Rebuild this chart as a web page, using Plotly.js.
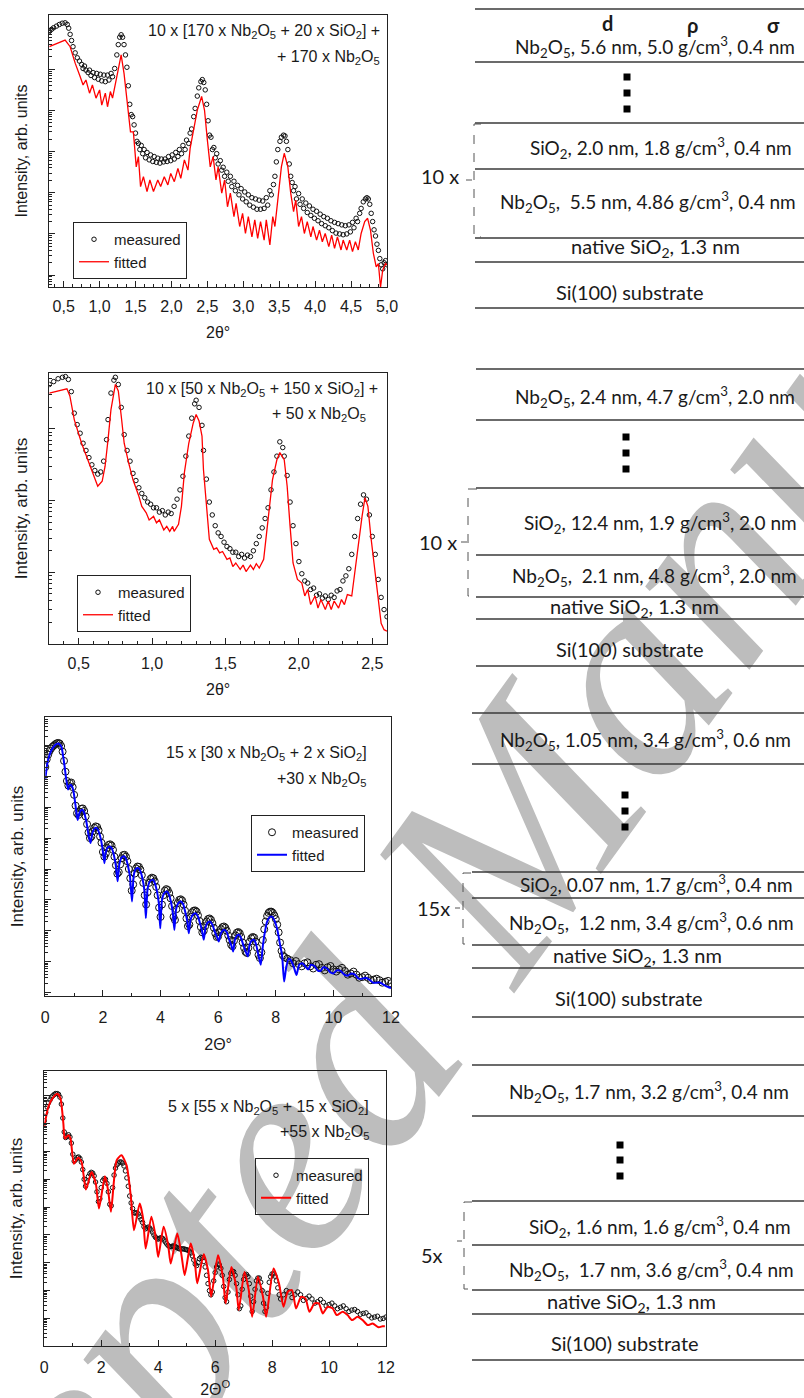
<!DOCTYPE html>
<html><head><meta charset="utf-8">
<script src="https://cdn.plot.ly/plotly-3.0.1.min.js"></script>
<style>
html,body{margin:0;padding:0;background:#fff;}
#wrap{position:relative;width:804px;height:1398px;overflow:hidden;background:#fff;}
#wm{position:absolute;left:497px;top:852px;transform:translate(-50%,-50%) rotate(-54deg);font-family:'Liberation Serif','Times New Roman',serif;font-style:italic;font-size:290px;color:#bdbdbd;white-space:nowrap;line-height:1;}
#chart{position:absolute;left:0;top:0;width:804px;height:1398px;}
</style></head><body>
<div id="wrap"><div id="wm">Accepted Manuscript</div><div id="chart"></div></div>
<script>
// ---------- DATA (x = 2theta in degrees, value = log10 of intensity, arb. units) ----------
const p1Measured = [[0.30,5.92],[0.33,5.97],[0.36,6.01],[0.40,6.05],[0.44,6.09],[0.48,6.12],[0.52,6.13],[0.55,6.09],[0.57,6.00],[0.59,5.85],[0.61,5.70],[0.63,5.55],[0.66,5.40],[0.69,5.28],[0.72,5.20],[0.75,5.12],[0.77,5.02],[0.79,5.08],[0.81,4.98],[0.84,4.92],[0.86,4.98],[0.88,4.85],[0.91,4.92],[0.93,4.80],[0.96,4.90],[0.98,4.76],[1.01,4.88],[1.03,4.72],[1.06,4.86],[1.08,4.70],[1.11,4.86],[1.13,4.74],[1.16,4.90],[1.18,4.82],[1.21,5.02],[1.24,5.35],[1.26,5.60],[1.28,5.78],[1.30,5.84],[1.32,5.78],[1.34,5.60],[1.36,5.35],[1.38,5.05],[1.40,4.60],[1.42,4.15],[1.44,3.90],[1.46,3.85],[1.48,3.65],[1.50,3.45],[1.52,3.25],[1.54,3.20],[1.56,3.05],[1.58,3.15],[1.60,2.95],[1.62,3.05],[1.64,2.85],[1.66,2.98],[1.69,2.80],[1.71,2.92],[1.74,2.76],[1.76,2.88],[1.79,2.74],[1.81,2.84],[1.84,2.72],[1.86,2.82],[1.89,2.75],[1.91,2.82],[1.94,2.76],[1.96,2.88],[1.99,2.78],[2.01,2.92],[2.04,2.82],[2.06,2.98],[2.09,2.88],[2.11,3.05],[2.14,2.95],[2.16,3.15],[2.19,3.05],[2.21,3.28],[2.24,3.20],[2.26,3.45],[2.28,3.55],[2.31,3.85],[2.33,4.05],[2.36,4.35],[2.38,4.55],[2.41,4.70],[2.43,4.75],[2.45,4.68],[2.47,4.50],[2.49,4.15],[2.51,3.75],[2.53,3.40],[2.55,3.35],[2.57,3.05],[2.59,3.10],[2.61,2.85],[2.63,2.95],[2.65,2.70],[2.68,2.78],[2.70,2.55],[2.72,2.62],[2.74,2.40],[2.77,2.50],[2.79,2.28],[2.82,2.40],[2.84,2.15],[2.87,2.28],[2.89,2.05],[2.92,2.18],[2.94,1.95],[2.97,2.10],[2.99,1.85],[3.02,2.02],[3.04,1.78],[3.07,1.95],[3.09,1.70],[3.12,1.88],[3.14,1.65],[3.17,1.85],[3.19,1.60],[3.22,1.82],[3.24,1.60],[3.27,1.80],[3.29,1.62],[3.32,1.88],[3.34,1.70],[3.37,2.05],[3.39,1.95],[3.42,2.20],[3.44,2.40],[3.46,2.75],[3.48,3.05],[3.51,3.25],[3.53,3.35],[3.56,3.40],[3.58,3.38],[3.60,3.25],[3.62,3.05],[3.64,2.70],[3.66,2.40],[3.68,2.25],[3.70,2.05],[3.72,2.15],[3.74,1.85],[3.77,1.98],[3.79,1.72],[3.82,1.85],[3.84,1.62],[3.87,1.75],[3.89,1.52],[3.92,1.68],[3.94,1.45],[3.97,1.60],[3.99,1.38],[4.02,1.55],[4.04,1.32],[4.07,1.48],[4.09,1.25],[4.12,1.42],[4.14,1.20],[4.17,1.38],[4.19,1.15],[4.22,1.32],[4.24,1.08],[4.27,1.28],[4.29,1.02],[4.32,1.25],[4.34,1.00],[4.37,1.22],[4.39,0.98],[4.42,1.20],[4.44,1.00],[4.47,1.22],[4.49,1.05],[4.52,1.28],[4.54,1.15],[4.57,1.38],[4.59,1.30],[4.62,1.50],[4.64,1.62],[4.67,1.78],[4.70,1.85],[4.72,1.88],[4.74,1.85],[4.76,1.72],[4.78,1.50],[4.80,1.30],[4.82,1.10],[4.84,0.95],[4.86,0.75],[4.88,0.60],[4.90,0.40],[4.92,0.25],[4.94,0.15],[4.96,0.30],[4.98,0.35],[5.00,0.25]];
const p1Fitted = [[0.30,5.55],[0.52,5.71],[0.59,5.55],[0.66,5.15],[0.73,4.82],[0.77,4.62],[0.81,4.74],[0.86,4.42],[0.90,4.62],[0.95,4.30],[1.00,4.50],[1.03,4.13],[1.08,4.42],[1.11,4.09],[1.15,4.46],[1.18,4.30],[1.23,4.74],[1.30,5.35],[1.34,4.90],[1.39,4.09],[1.43,3.48],[1.47,3.48],[1.51,2.63],[1.54,2.88],[1.57,2.15],[1.61,2.39],[1.66,2.03],[1.70,2.31],[1.75,2.03],[1.81,2.31],[1.85,2.15],[1.90,2.39],[1.95,2.19],[1.99,2.47],[2.04,2.27],[2.09,2.59],[2.13,2.35],[2.18,2.80],[2.23,2.55],[2.26,3.08],[2.31,3.53],[2.36,4.01],[2.42,4.34],[2.46,4.01],[2.50,3.28],[2.54,2.63],[2.58,2.88],[2.62,2.31],[2.65,2.63],[2.70,1.99],[2.74,2.31],[2.78,1.66],[2.82,1.99],[2.87,1.42],[2.90,1.74],[2.95,1.18],[2.99,1.50],[3.03,1.01],[3.07,1.42],[3.12,0.93],[3.16,1.34],[3.20,0.89],[3.24,1.30],[3.29,0.85],[3.32,1.34],[3.37,0.73],[3.41,1.42],[3.44,1.18],[3.48,1.82],[3.53,2.63],[3.57,2.96],[3.62,2.63],[3.66,1.99],[3.70,1.54],[3.73,1.82],[3.77,1.18],[3.81,1.42],[3.85,1.01],[3.89,1.30],[3.94,0.93],[3.97,1.18],[4.02,0.85],[4.06,1.09],[4.10,0.81],[4.14,1.01],[4.19,0.69],[4.23,0.97],[4.27,0.65],[4.31,0.93],[4.36,0.61],[4.39,0.85],[4.44,0.61],[4.48,0.85],[4.52,0.57],[4.56,0.81],[4.60,0.61],[4.64,1.01],[4.69,1.30],[4.73,1.38],[4.77,1.09],[4.81,0.53],[4.85,0.20],[4.88,0.28],[4.91,-0.29],[4.94,0.12],[4.98,0.28],[5.00,0.24]];

const p2Measured = [[0.30,2.62],[0.33,2.66],[0.36,2.70],[0.39,2.72],[0.41,2.73],[0.43,2.69],[0.45,2.52],[0.47,2.22],[0.49,2.06],[0.51,1.94],[0.53,1.80],[0.55,1.70],[0.57,1.60],[0.59,1.50],[0.61,1.42],[0.63,1.37],[0.65,1.40],[0.67,1.55],[0.69,1.85],[0.70,2.13],[0.72,2.50],[0.74,2.68],[0.75,2.72],[0.77,2.62],[0.79,2.30],[0.81,1.92],[0.83,1.70],[0.85,1.55],[0.87,1.38],[0.89,1.28],[0.91,1.18],[0.93,1.10],[0.95,1.04],[0.97,0.98],[0.99,0.95],[1.01,0.90],[1.03,0.90],[1.05,0.84],[1.07,0.86],[1.09,0.80],[1.11,0.84],[1.13,0.82],[1.15,0.92],[1.17,1.02],[1.19,1.15],[1.21,1.34],[1.23,1.62],[1.25,1.90],[1.27,2.15],[1.29,2.35],[1.30,2.40],[1.32,2.30],[1.34,2.05],[1.35,1.70],[1.37,1.30],[1.39,0.98],[1.41,0.80],[1.43,0.65],[1.45,0.55],[1.47,0.50],[1.49,0.42],[1.51,0.36],[1.53,0.33],[1.55,0.28],[1.57,0.28],[1.59,0.22],[1.61,0.25],[1.63,0.20],[1.65,0.24],[1.67,0.22],[1.69,0.30],[1.71,0.40],[1.73,0.50],[1.75,0.62],[1.77,0.75],[1.79,0.90],[1.81,1.15],[1.83,1.40],[1.85,1.62],[1.87,1.82],[1.89,1.74],[1.90,1.62],[1.92,1.35],[1.94,0.98],[1.96,0.65],[1.98,0.40],[2.00,0.15],[2.02,-0.02],[2.04,-0.12],[2.06,-0.15],[2.08,-0.24],[2.10,-0.22],[2.12,-0.32],[2.14,-0.30],[2.16,-0.36],[2.18,-0.33],[2.20,-0.38],[2.22,-0.32],[2.24,-0.35],[2.26,-0.26],[2.28,-0.24],[2.30,-0.12],[2.32,-0.05],[2.34,0.05],[2.36,0.25],[2.38,0.50],[2.40,0.75],[2.42,0.95],[2.44,1.08],[2.46,1.02],[2.48,0.80],[2.50,0.50],[2.52,0.25],[2.54,-0.10],[2.56,-0.35],[2.58,-0.52],[2.60,-0.62]];
const p2Fitted = [[0.30,2.50],[0.42,2.56],[0.44,2.46],[0.47,2.13],[0.52,1.80],[0.57,1.53],[0.61,1.32],[0.63,1.20],[0.66,1.27],[0.68,1.48],[0.70,1.85],[0.72,2.27],[0.75,2.62],[0.77,2.53],[0.79,2.18],[0.81,1.80],[0.84,1.53],[0.87,1.29],[0.91,1.06],[0.93,0.92],[0.96,0.83],[0.98,0.73],[1.01,0.78],[1.03,0.69],[1.05,0.73],[1.08,0.59],[1.10,0.64],[1.12,0.57],[1.14,0.64],[1.15,0.57],[1.18,0.67],[1.20,0.92],[1.22,1.39],[1.25,1.80],[1.28,2.08],[1.30,2.20],[1.32,2.11],[1.34,1.90],[1.35,1.43],[1.37,0.92],[1.39,0.46],[1.42,0.32],[1.44,0.34],[1.46,0.27],[1.48,0.29],[1.51,0.18],[1.53,0.20],[1.55,0.08],[1.57,0.13],[1.60,0.04],[1.62,0.10],[1.64,0.01],[1.67,0.10],[1.69,0.04],[1.71,0.12],[1.73,0.06],[1.76,0.18],[1.78,0.55],[1.80,0.97],[1.82,1.29],[1.85,1.57],[1.87,1.67],[1.90,1.57],[1.92,1.20],[1.94,0.64],[1.96,0.13],[1.99,-0.10],[2.02,-0.15],[2.04,-0.33],[2.06,-0.24],[2.08,-0.45],[2.11,-0.33],[2.13,-0.50],[2.15,-0.38],[2.18,-0.52],[2.20,-0.40],[2.22,-0.52],[2.24,-0.40],[2.27,-0.50],[2.29,-0.38],[2.31,-0.45],[2.33,-0.31],[2.36,-0.33],[2.38,-0.01],[2.40,0.36],[2.43,0.78],[2.45,1.04],[2.47,0.92],[2.49,0.50],[2.52,-0.01],[2.54,-0.43],[2.56,-0.71],[2.58,-0.80],[2.60,-0.82]];

const p3Measured = [[0.00,7.30],[0.05,7.55],[0.10,7.70],[0.15,7.82],[0.20,7.90],[0.25,7.96],[0.30,8.00],[0.35,8.04],[0.40,8.07],[0.45,8.08],[0.50,8.06],[0.55,7.98],[0.60,7.80],[0.65,7.50],[0.70,7.15],[0.75,6.85],[0.80,6.70],[0.85,6.78],[0.90,6.80],[0.95,6.65],[1.00,6.40],[1.05,6.05],[1.10,5.80],[1.15,5.75],[1.20,5.85],[1.25,5.95],[1.30,5.96],[1.35,5.88],[1.40,5.70],[1.45,5.45],[1.50,5.18],[1.55,5.00],[1.60,5.05],[1.65,5.22],[1.70,5.33],[1.75,5.38],[1.80,5.36],[1.85,5.25],[1.90,5.05],[1.95,4.85],[2.00,4.55],[2.05,4.40],[2.10,4.50],[2.15,4.68],[2.20,4.78],[2.25,4.80],[2.30,4.76],[2.35,4.62],[2.40,4.40],[2.45,4.12],[2.50,3.85],[2.55,3.90],[2.60,4.15],[2.65,4.35],[2.70,4.45],[2.75,4.46],[2.80,4.40],[2.85,4.25],[2.90,4.00],[2.95,3.70],[3.00,3.30],[3.05,3.50],[3.10,3.85],[3.15,4.02],[3.20,4.08],[3.25,4.07],[3.30,3.98],[3.35,3.80],[3.40,3.55],[3.45,3.15],[3.50,2.85],[3.55,3.25],[3.60,3.55],[3.65,3.68],[3.70,3.72],[3.75,3.70],[3.80,3.60],[3.85,3.42],[3.90,3.15],[3.95,2.75],[4.00,2.45],[4.05,2.85],[4.10,3.15],[4.15,3.30],[4.20,3.35],[4.25,3.32],[4.30,3.22],[4.35,3.05],[4.40,2.80],[4.45,2.45],[4.50,2.35],[4.55,2.70],[4.60,2.90],[4.65,3.00],[4.70,3.02],[4.75,2.98],[4.80,2.85],[4.85,2.65],[4.90,2.40],[4.95,2.15],[5.00,2.20],[5.05,2.45],[5.10,2.60],[5.15,2.65],[5.20,2.66],[5.25,2.62],[5.30,2.50],[5.35,2.32],[5.40,2.12],[5.45,1.95],[5.50,2.00],[5.55,2.15],[5.60,2.30],[5.65,2.38],[5.70,2.40],[5.75,2.36],[5.80,2.25],[5.85,2.10],[5.90,1.92],[5.95,1.80],[6.00,1.82],[6.05,1.95],[6.10,2.05],[6.15,2.12],[6.20,2.14],[6.25,2.10],[6.30,2.00],[6.35,1.85],[6.40,1.70],[6.45,1.55],[6.50,1.50],[6.55,1.68],[6.60,1.85],[6.65,1.94],[6.70,1.96],[6.75,1.92],[6.80,1.80],[6.85,1.62],[6.90,1.45],[6.95,1.32],[7.00,1.28],[7.05,1.45],[7.10,1.65],[7.15,1.76],[7.20,1.80],[7.25,1.78],[7.30,1.65],[7.35,1.45],[7.40,1.22],[7.45,1.12],[7.50,1.30],[7.55,1.70],[7.60,2.05],[7.65,2.30],[7.70,2.48],[7.75,2.58],[7.80,2.62],[7.85,2.62],[7.90,2.58],[7.95,2.50],[8.00,2.38],[8.05,2.20],[8.10,1.95],[8.15,1.62],[8.20,1.35],[8.25,1.20],[8.30,1.15],[8.40,1.10],[8.50,1.05],[8.60,0.95],[8.70,1.02],[8.80,0.92],[8.90,0.85],[9.00,0.95],[9.10,0.98],[9.20,0.85],[9.30,0.78],[9.40,0.90],[9.50,0.92],[9.60,0.80],[9.70,0.72],[9.80,0.82],[9.90,0.86],[10.00,0.75],[10.10,0.68],[10.20,0.75],[10.30,0.80],[10.40,0.70],[10.50,0.58],[10.60,0.62],[10.70,0.68],[10.80,0.58],[10.90,0.48],[11.00,0.50],[11.10,0.55],[11.20,0.48],[11.30,0.40],[11.40,0.42],[11.50,0.45],[11.60,0.40],[11.70,0.32],[11.80,0.35],[11.90,0.38],[12.00,0.30]];
const p3Fitted = [[0.00,6.89],[0.05,7.30],[0.10,7.55],[0.20,7.82],[0.30,7.97],[0.40,8.05],[0.45,8.06],[0.50,8.03],[0.56,7.95],[0.62,7.65],[0.67,7.32],[0.72,6.95],[0.79,6.57],[0.84,6.70],[0.88,6.73],[0.94,6.65],[0.99,6.45],[1.05,6.05],[1.12,5.59],[1.18,5.80],[1.24,5.90],[1.29,5.92],[1.35,5.82],[1.41,5.60],[1.45,5.40],[1.51,5.05],[1.57,4.84],[1.63,5.15],[1.70,5.30],[1.78,5.33],[1.85,5.22],[1.92,5.00],[1.98,4.70],[2.05,4.19],[2.10,4.55],[2.17,4.70],[2.24,4.73],[2.31,4.66],[2.38,4.45],[2.45,4.10],[2.51,3.60],[2.57,4.15],[2.64,4.36],[2.73,4.41],[2.80,4.33],[2.87,4.10],[2.94,3.75],[3.01,2.95],[3.07,3.80],[3.14,4.00],[3.23,4.03],[3.30,3.93],[3.37,3.70],[3.44,3.30],[3.49,2.41],[3.55,3.35],[3.63,3.60],[3.73,3.65],[3.80,3.55],[3.87,3.30],[3.94,2.90],[3.99,2.08],[4.05,3.00],[4.13,3.22],[4.22,3.27],[4.30,3.15],[4.37,2.90],[4.43,2.55],[4.48,2.03],[4.54,2.70],[4.62,2.90],[4.71,2.95],[4.79,2.85],[4.86,2.60],[4.93,2.30],[4.98,1.92],[5.04,2.35],[5.12,2.52],[5.21,2.57],[5.29,2.48],[5.36,2.28],[5.44,2.00],[5.50,1.71],[5.56,2.10],[5.63,2.26],[5.71,2.30],[5.80,2.20],[5.88,1.98],[5.96,1.80],[6.02,1.65],[6.08,1.88],[6.15,2.00],[6.22,2.03],[6.30,1.95],[6.38,1.72],[6.46,1.52],[6.52,1.33],[6.58,1.70],[6.65,1.84],[6.72,1.87],[6.80,1.75],[6.88,1.52],[6.96,1.32],[7.03,1.17],[7.09,1.55],[7.16,1.68],[7.24,1.71],[7.32,1.55],[7.40,1.20],[7.48,0.90],[7.55,1.50],[7.62,1.95],[7.70,2.30],[7.80,2.45],[7.88,2.45],[7.96,2.32],[8.05,2.05],[8.14,1.60],[8.22,1.20],[8.29,0.36],[8.36,0.80],[8.45,1.10],[8.52,1.05],[8.62,0.85],[8.72,0.57],[8.81,0.90],[8.92,0.95],[9.02,0.85],[9.12,0.75],[9.22,0.90],[9.35,0.85],[9.45,0.72],[9.55,0.70],[9.65,0.82],[9.78,0.78],[9.90,0.65],[10.00,0.62],[10.12,0.72],[10.25,0.70],[10.38,0.58],[10.50,0.55],[10.62,0.62],[10.75,0.58],[10.88,0.45],[11.00,0.45],[11.12,0.48],[11.25,0.42],[11.38,0.32],[11.50,0.32],[11.62,0.33],[11.75,0.25],[11.90,0.18],[12.00,0.15]];

const p4Measured = [[0.00,7.10],[0.05,7.40],[0.10,7.60],[0.15,7.75],[0.20,7.85],[0.25,7.95],[0.30,8.00],[0.35,8.05],[0.40,8.08],[0.45,8.08],[0.50,8.05],[0.55,7.95],[0.60,7.70],[0.65,7.20],[0.70,6.70],[0.75,6.50],[0.80,6.55],[0.85,6.60],[0.90,6.52],[0.95,6.30],[1.00,5.90],[1.05,5.65],[1.10,5.70],[1.15,5.78],[1.20,5.80],[1.25,5.75],[1.30,5.62],[1.35,5.35],[1.40,5.00],[1.45,4.75],[1.50,4.90],[1.55,5.10],[1.60,5.20],[1.65,5.25],[1.70,5.22],[1.75,5.12],[1.80,4.90],[1.85,4.55],[1.90,4.20],[1.95,4.30],[2.00,4.70],[2.05,4.95],[2.10,5.02],[2.15,5.00],[2.20,4.85],[2.25,4.55],[2.30,4.10],[2.35,4.05],[2.40,4.70],[2.45,5.15],[2.50,5.40],[2.55,5.52],[2.60,5.58],[2.65,5.62],[2.70,5.62],[2.75,5.58],[2.80,5.48],[2.85,5.30],[2.90,5.05],[2.95,4.75],[3.00,4.40],[3.05,4.15],[3.10,3.95],[3.15,3.80],[3.20,3.78],[3.25,3.80],[3.30,3.75],[3.35,3.65],[3.40,3.55],[3.45,3.45],[3.50,3.30],[3.55,3.22],[3.60,3.25],[3.65,3.28],[3.70,3.25],[3.75,3.18],[3.80,3.10],[3.85,3.00],[3.90,2.92],[3.95,2.88],[4.00,2.85],[4.05,2.88],[4.10,2.90],[4.15,2.88],[4.20,2.82],[4.25,2.75],[4.30,2.68],[4.35,2.62],[4.40,2.58],[4.45,2.58],[4.50,2.60],[4.55,2.60],[4.60,2.58],[4.65,2.55],[4.70,2.52],[4.75,2.50],[4.80,2.50],[4.85,2.50],[4.90,2.50],[4.95,2.48],[5.00,2.47],[5.05,2.45],[5.10,2.42],[5.15,2.35],[5.20,2.25],[5.25,2.10],[5.30,1.95],[5.35,1.90],[5.40,2.00],[5.45,2.15],[5.50,2.20],[5.55,2.18],[5.60,2.05],[5.65,1.85],[5.70,1.55],[5.75,1.25],[5.80,1.00],[5.85,0.85],[5.90,0.95],[5.95,1.35],[6.00,1.65],[6.05,1.85],[6.10,1.95],[6.15,1.92],[6.20,1.80],[6.25,1.55],[6.30,1.15],[6.35,0.75],[6.40,0.60],[6.45,0.95],[6.50,1.40],[6.55,1.62],[6.60,1.70],[6.65,1.68],[6.70,1.55],[6.75,1.25],[6.80,0.85],[6.85,0.35],[6.90,0.45],[6.95,1.05],[7.00,1.40],[7.05,1.55],[7.10,1.58],[7.15,1.50],[7.20,1.25],[7.25,0.80],[7.30,0.25],[7.35,0.60],[7.40,1.05],[7.45,1.35],[7.50,1.45],[7.55,1.45],[7.60,1.30],[7.65,1.00],[7.70,0.55],[7.75,0.25],[7.80,0.40],[7.85,0.90],[7.90,1.30],[7.95,1.50],[8.00,1.60],[8.05,1.60],[8.10,1.52],[8.15,1.35],[8.20,1.10],[8.25,0.85],[8.30,0.70],[8.40,0.85],[8.50,1.00],[8.60,0.95],[8.70,0.75],[8.80,0.85],[8.90,0.95],[9.00,0.85],[9.10,0.65],[9.20,0.72],[9.30,0.80],[9.40,0.70],[9.50,0.55],[9.60,0.60],[9.70,0.68],[9.80,0.58],[9.90,0.45],[10.00,0.50],[10.10,0.55],[10.20,0.45],[10.30,0.35],[10.40,0.40],[10.50,0.45],[10.60,0.35],[10.70,0.25],[10.80,0.30],[10.90,0.32],[11.00,0.25],[11.10,0.15],[11.20,0.18],[11.30,0.20],[11.40,0.10],[11.50,0.02],[11.60,0.05],[11.70,0.08],[11.80,-0.02],[11.90,0.00],[12.00,0.05]];
const p4Fitted = [[0.00,6.88],[0.14,7.60],[0.32,7.95],[0.46,8.07],[0.57,7.89],[0.67,7.00],[0.72,6.46],[0.84,6.58],[0.92,6.46],[1.04,5.56],[1.19,5.78],[1.31,5.62],[1.46,4.63],[1.66,5.26],[1.81,4.84],[1.92,3.95],[2.13,5.11],[2.24,4.61],[2.34,3.83],[2.54,5.68],[2.71,5.86],[2.89,5.50],[3.04,4.37],[3.15,3.17],[3.35,4.13],[3.47,3.59],[3.56,2.51],[3.76,3.65],[3.91,2.93],[4.00,2.21],[4.19,3.29],[4.35,2.63],[4.44,1.97],[4.67,3.05],[4.81,2.33],[4.93,1.56],[5.14,2.69],[5.28,2.09],[5.37,1.26],[5.60,2.31],[5.75,1.73],[5.86,0.78],[6.10,2.27],[6.27,1.50],[6.37,0.54],[6.57,1.85],[6.74,1.14],[6.83,0.30],[7.03,1.67],[7.18,1.02],[7.30,0.06],[7.50,1.50],[7.68,0.78],[7.79,0.06],[8.05,1.79],[8.24,1.26],[8.40,0.42],[8.55,0.96],[8.70,1.02],[8.84,0.36],[9.02,0.78],[9.17,0.72],[9.31,0.24],[9.49,0.54],[9.64,0.54],[9.78,0.18],[9.95,0.42],[10.13,0.36],[10.27,0.12],[10.48,0.24],[10.65,0.12],[10.81,-0.06],[11.00,0.06],[11.18,-0.06],[11.36,-0.24],[11.53,-0.18],[11.74,-0.32],[11.88,-0.28],[11.96,-0.28]];

const sampleFormulas = [
  ['10 x [170 x Nb<sub>2</sub>O<sub>5</sub> + 20 x SiO<sub>2</sub>] +', '+ 170 x Nb<sub>2</sub>O<sub>5</sub>'],
  ['10 x [50 x Nb<sub>2</sub>O<sub>5</sub> + 150 x SiO<sub>2</sub>] +', '+ 50 x Nb<sub>2</sub>O<sub>5</sub>'],
  ['15 x [30 x Nb<sub>2</sub>O<sub>5</sub> + 2 x SiO<sub>2</sub>]', '+30 x Nb<sub>2</sub>O<sub>5</sub>'],
  ['5 x [55 x Nb<sub>2</sub>O<sub>5</sub> + 15 x SiO<sub>2</sub>]', '+55 x Nb<sub>2</sub>O<sub>5</sub>']
];
const xTitles = ['2θ°', '2θ°', '2Θ°', '2Θ<sup>O</sup>'];
const seriesNames = ['measured', 'fitted'];

// layer stacks (right column)
const layerTexts = [
  ['Nb<sub>2</sub>O<sub>5</sub>, 5.6 nm, 5.0 g/cm<sup>3</sup>, 0.4 nm', 'SiO<sub>2</sub>, 2.0 nm, 1.8 g/cm<sup>3</sup>, 0.4 nm', 'Nb<sub>2</sub>O<sub>5</sub>,\u00a0 5.5 nm, 4.86 g/cm<sup>3</sup>, 0.4 nm'],
  ['Nb<sub>2</sub>O<sub>5</sub>, 2.4 nm, 4.7 g/cm<sup>3</sup>, 2.0 nm', 'SiO<sub>2</sub>, 12.4 nm, 1.9 g/cm<sup>3</sup>, 2.0 nm', 'Nb<sub>2</sub>O<sub>5</sub>,\u00a0 2.1 nm, 4.8 g/cm<sup>3</sup>, 2.0 nm'],
  ['Nb<sub>2</sub>O<sub>5</sub>, 1.05 nm, 3.4 g/cm<sup>3</sup>, 0.6 nm', 'SiO<sub>2</sub>, 0.07 nm, 1.7 g/cm<sup>3</sup>, 0.4 nm', 'Nb<sub>2</sub>O<sub>5</sub>,\u00a0 1.2 nm, 3.4 g/cm<sup>3</sup>, 0.6 nm'],
  ['Nb<sub>2</sub>O<sub>5</sub>, 1.7 nm, 3.2 g/cm<sup>3</sup>, 0.4 nm', 'SiO<sub>2</sub>, 1.6 nm, 1.6 g/cm<sup>3</sup>, 0.4 nm', 'Nb<sub>2</sub>O<sub>5</sub>,\u00a0 1.7 nm, 3.6 g/cm<sup>3</sup>, 0.4 nm']
];
const nativeText = 'native SiO<sub>2</sub>, 1.3 nm';
const substrateText = 'Si(100) substrate';
const repeatLabels = ['10 x', '10 x', '15x', '5x'];
const headerLabels = ['d', 'ρ', 'σ'];

// ---------- LAYOUT GEOMETRY (pixels) ----------
const W = 804, H = 1398;
const px = v => v / W;
const py = v => 1 - v / H;
const FONT = '"Liberation Sans", Arial, sans-serif';
const LFONT = 'Lato, Carlito, Calibri, sans-serif';
const INK = '#1a1a1a';

const panels = [
  {meas: p1Measured, fit: p1Fitted, color: '#ff0000', lw: 1.3, ms: 4.5, box: {l: 49.3, r: 387, t: 15, b: 287}, xr: [0.3, 5.0], yr: [-0.29, 6.32], dtick: 0.5, minor: 0.125, fmt: '.1f', leg: [73, 222], f: [[382, 32], [382, 57]], ytSize: 16, lso: 5, tso: 12},
  {meas: p2Measured, fit: p2Fitted, color: '#ff0000', lw: 1.3, ms: 4.5, box: {l: 49.3, r: 387, t: 373, b: 644}, xr: [0.3, 2.6], yr: [-1.0, 2.78], dtick: 0.5, minor: 0.1, fmt: '.1f', leg: [77, 575], f: [[380, 389], [368, 415]], ytSize: 17, lso: 5, tso: 12},
  {meas: p3Measured, fit: p3Fitted, color: '#0000ff', lw: 2, ms: 7, box: {l: 45.3, r: 391, t: 717, b: 996}, xr: [0, 12], yr: [-0.11, 8.92], dtick: 2, minor: 1, fmt: 'd', leg: [251, 815], f: [[369, 753], [368, 780]], ytSize: 17, lso: 7, tso: 13},
  {meas: p4Measured, fit: p4Fitted, color: '#ff0000', lw: 2, ms: 4.5, box: {l: 44.3, r: 386, t: 1071, b: 1346}, xr: [0, 12], yr: [-0.99, 8.89], dtick: 2, minor: 1, fmt: 'd', leg: [255, 1158], f: [[371, 1107], [371, 1132]], ytSize: 17, lso: 7, tso: 14}
];

const stacks = [
  {x0: 475, lines: [9, 62, 123, 169, 238, 262, 308], tl: [[513, 47], [528, 148], [498, 202]], nat: [655, 248], sub: [630, 292], dots: [627, [77, 93, 109]], br: {x: 474, y0: 124, y1: 237, hook: 481, tick: [466, 472, 180]}, lab: [440, 176], header: [[607, 23], [692, 25], [773, 25]]},
  {x0: 476, lines: [369, 420, 488, 555, 597, 619, 666], tl: [[513, 397], [522, 523], [510, 576]], nat: [634, 607], sub: [630, 649], dots: [626, [437, 453, 469]], br: {x: 468, y0: 489, y1: 596, hook: 477, tick: [461, 467, 542]}, lab: [438, 542]},
  {x0: 472, lines: [713, 764, 872, 898, 945, 968, 1017], tl: [[498, 740], [518, 885], [507, 923]], nat: [637, 957], sub: [629, 998], dots: [625, [795, 811, 827]], br: {x: 463, y0: 873, y1: 944, hook: 471, tick: [455, 460, 908]}, lab: [433, 908]},
  {x0: 472, lines: [1065, 1116, 1201, 1245, 1290, 1314, 1360], tl: [[507, 1092], [527, 1227], [507, 1270]], nat: [631, 1302], sub: [625, 1343], dots: [620, [1145, 1160, 1176]], br: {x: 464, y0: 1202, y1: 1289, hook: 472, tick: [457, 462, 1241]}, lab: [432, 1255]}
];

// ---------- BUILD ----------
const traces = [];
const layout = {
  width: W, height: H, margin: {l: 0, r: 0, t: 0, b: 0},
  paper_bgcolor: 'rgba(0,0,0,0)', plot_bgcolor: 'rgba(0,0,0,0)',
  separators: ', ', showlegend: true,
  font: {family: FONT, size: 16, color: INK},
  annotations: [], shapes: []
};

panels.forEach((p, i) => {
  const n = i === 0 ? '' : String(i + 1);
  const legKey = i === 0 ? 'legend' : 'legend' + (i + 1);
  traces.push({
    type: 'scatter', mode: 'markers', name: seriesNames[0],
    x: p.meas.map(d => d[0]), y: p.meas.map(d => Math.pow(10, d[1])),
    xaxis: 'x' + n, yaxis: 'y' + n, legend: legKey,
    marker: {symbol: 'circle-open', size: p.ms, color: '#111', line: {width: 1, color: '#111'}}
  });
  traces.push({
    type: 'scatter', mode: 'lines', name: seriesNames[1],
    x: p.fit.map(d => d[0]), y: p.fit.map(d => Math.pow(10, d[1])),
    xaxis: 'x' + n, yaxis: 'y' + n, legend: legKey,
    line: {color: p.color, width: p.lw, shape: i >= 2 ? 'spline' : 'linear', smoothing: 0.6}
  });
  layout['xaxis' + n] = {
    domain: [px(p.box.l), px(p.box.r)], anchor: 'y' + n, range: p.xr,
    showline: true, mirror: true, linecolor: '#222', linewidth: 1,
    ticks: 'inside', ticklen: 6, tickwidth: 1, tickcolor: '#222',
    tick0: 0, dtick: p.dtick, tickformat: p.fmt, ticklabelstandoff: p.lso,
    minor: {dtick: p.minor, ticks: 'inside', ticklen: 3, tickwidth: 1, tickcolor: '#222', showgrid: false},
    showgrid: false, zeroline: false, fixedrange: true,
    tickfont: {family: FONT, size: 16, color: INK},
    title: {text: xTitles[i], font: {family: FONT, size: 16, color: INK}, standoff: p.tso}
  };
  layout['yaxis' + n] = {
    domain: [py(p.box.b), py(p.box.t)], anchor: 'x' + n, type: 'log', range: p.yr,
    showline: true, mirror: true, linecolor: '#222', linewidth: 1,
    ticks: 'inside', ticklen: 6, tickwidth: 1, tickcolor: '#222', dtick: 1,
    minor: {dtick: 'D1', ticks: 'inside', ticklen: 3, tickwidth: 1, tickcolor: '#222', showgrid: false},
    showticklabels: false, showgrid: false, zeroline: false, fixedrange: true,
    title: {text: 'Intensity, arb. units', font: {family: FONT, size: p.ytSize, color: INK}, standoff: 16}
  };
  layout[legKey] = {
    x: px(p.leg[0]), y: py(p.leg[1]), xanchor: 'left', yanchor: 'top',
    bgcolor: 'rgba(255,255,255,0)', bordercolor: '#222', borderwidth: 1,
    font: {family: FONT, size: 15, color: INK}, itemwidth: 30, tracegroupgap: 0
  };
  sampleFormulas[i].forEach((t, k) => {
    layout.annotations.push({text: t, xref: 'paper', yref: 'paper', x: px(p.f[k][0]), y: py(p.f[k][1]),
      xanchor: 'right', yanchor: 'middle', showarrow: false, font: {family: FONT, size: 16, color: INK}});
  });
});

const lineColor = '#3a3a3a';
stacks.forEach((s, i) => {
  s.lines.forEach(y => layout.shapes.push({type: 'line', xref: 'paper', yref: 'paper',
    x0: px(s.x0), x1: px(W), y0: py(y), y1: py(y), line: {color: lineColor, width: 1.5}}));
  s.tl.forEach((pos, k) => layout.annotations.push({text: layerTexts[i][k], xref: 'paper', yref: 'paper',
    x: px(pos[0]), y: py(pos[1]), xanchor: 'left', yanchor: 'middle', showarrow: false,
    font: {family: LFONT, size: 19, color: INK}}));
  layout.annotations.push({text: nativeText, xref: 'paper', yref: 'paper', x: px(s.nat[0]), y: py(s.nat[1]),
    xanchor: 'center', yanchor: 'middle', showarrow: false, font: {family: LFONT, size: 20, color: INK}});
  layout.annotations.push({text: substrateText, xref: 'paper', yref: 'paper', x: px(s.sub[0]), y: py(s.sub[1]),
    xanchor: 'center', yanchor: 'middle', showarrow: false, font: {family: LFONT, size: 20, color: INK}});
  layout.annotations.push({text: repeatLabels[i], xref: 'paper', yref: 'paper', x: px(s.lab[0]), y: py(s.lab[1]),
    xanchor: 'center', yanchor: 'middle', showarrow: false, font: {family: LFONT, size: 20, color: INK}});
  s.dots[1].forEach(y => layout.shapes.push({type: 'rect', xref: 'paper', yref: 'paper',
    x0: px(s.dots[0] - 3.5), x1: px(s.dots[0] + 3.5), y0: py(y + 3.5), y1: py(y - 3.5),
    fillcolor: '#000', line: {width: 0}}));
  const b = s.br;
  const path = `M ${px(b.hook)} ${py(b.y0)} L ${px(b.x)} ${py(b.y0)} L ${px(b.x)} ${py(b.y1)} L ${px(b.hook)} ${py(b.y1)}`;
  layout.shapes.push({type: 'path', xref: 'paper', yref: 'paper', path: path, line: {color: '#555', width: 1, dash: 'dash'}});
  layout.shapes.push({type: 'line', xref: 'paper', yref: 'paper', x0: px(b.tick[0]), x1: px(b.tick[1]),
    y0: py(b.tick[2]), y1: py(b.tick[2]), line: {color: '#555', width: 1}});
  if (s.header) s.header.forEach((h, k) => layout.annotations.push({text: '<b>' + headerLabels[k] + '</b>', xref: 'paper', yref: 'paper',
    x: px(h[0]), y: py(h[1]), xanchor: 'center', yanchor: 'middle', showarrow: false, font: {family: LFONT, size: 20, color: INK}}));
});

Plotly.newPlot('chart', traces, layout, {displayModeBar: false, staticPlot: true});
</script>
</body></html>
